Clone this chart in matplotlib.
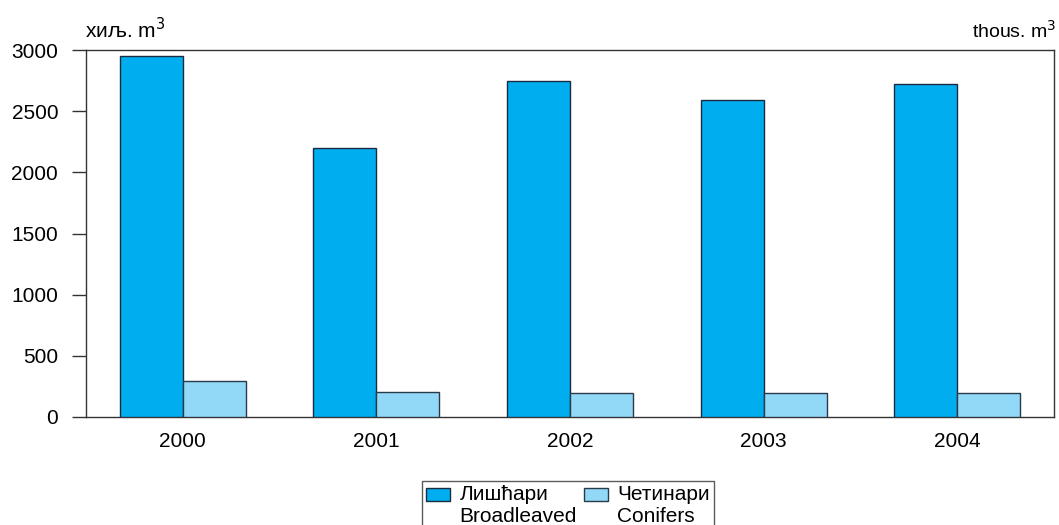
import matplotlib
matplotlib.use("Agg")
import matplotlib.pyplot as plt
from matplotlib.patches import Rectangle
from matplotlib.container import BarContainer
from matplotlib.legend_handler import HandlerPatch, update_from_first_child
import numpy as np

plt.rcParams['font.family'] = ['Liberation Sans', 'DejaVu Sans']

years = ["2000", "2001", "2002", "2003", "2004"]
broadleaved = [2950, 2200, 2750, 2590, 2720]
conifers = [295, 205, 200, 195, 195]
yticks = [0, 500, 1000, 1500, 2000, 2500, 3000]

c_broad = "#00AEEF"
c_conif = "#92D9F7"
edge = "#1c2a40"
axc = "#333333"

fig = plt.figure(figsize=(10.59, 5.25), dpi=100)
ax = fig.add_axes([86/1059, 1-417/525, (1054-86)/1059, (417-50)/525])

x = np.arange(len(years))
w = 0.325
ax.bar(x - w/2, broadleaved, width=w, color=c_broad, edgecolor=edge, linewidth=1.0,
       label="Лишћари\nBroadleaved", zorder=3)
ax.bar(x + w/2, conifers, width=w, color=c_conif, edgecolor="#2a3a4a", linewidth=1.0,
       label="Четинари\nConifers", zorder=3)

ax.set_xlim(-0.5, len(years) - 0.5)
ax.set_ylim(0, 3000)
ax.set_yticks(yticks)
ax.set_yticklabels([str(v) for v in yticks], fontsize=15)
ax.set_xticks(x)
ax.set_xticklabels(years, fontsize=15)
ax.tick_params(axis='x', length=0, pad=10.5)
ax.tick_params(axis='y', length=10, width=1.0, color=axc, pad=10)
for s in ax.spines.values():
    s.set_color(axc)
    s.set_linewidth(1.0)

fig.text(85/1059, 1-37.5/525, "хиљ. m$^3$", fontsize=15, ha='left', va='baseline')
fig.text(1057/1059, 1-37.5/525, "thous. m$^3$", fontsize=14, ha='right', va='baseline')


def top_patch(legend, orig_handle, xdescent, ydescent, width, height, fontsize):
    return Rectangle((-xdescent, -ydescent + 0.55 * fontsize), width, height)


hp = HandlerPatch(patch_func=top_patch, update_func=update_from_first_child)
leg = fig.legend(loc='upper center', bbox_to_anchor=(568/1059, 1-481/525), ncol=2,
                 fontsize=15, frameon=True, fancybox=False, edgecolor=axc,
                 handlelength=1.15, handleheight=0.62, handletextpad=0.45,
                 columnspacing=0.35, borderpad=0.2, labelspacing=0.1,
                 borderaxespad=0,
                 handler_map={BarContainer: hp})
leg.get_frame().set_linewidth(1.0)

fig.savefig("out.png", dpi=100)
